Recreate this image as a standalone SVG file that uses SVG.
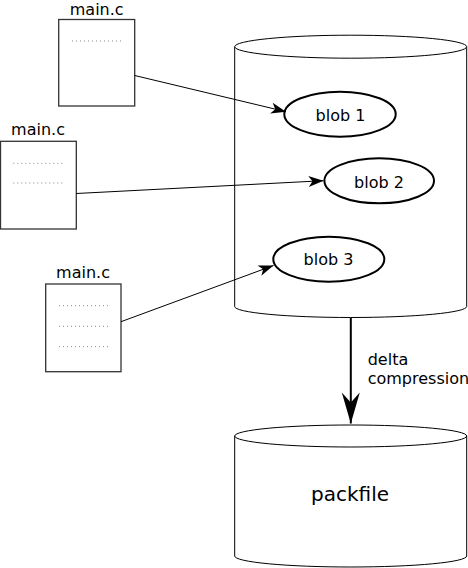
<svg xmlns="http://www.w3.org/2000/svg" width="468" height="568" viewBox="0 0 468 568">
<style>
text{font-family:"DejaVu Sans","Liberation Sans",sans-serif;fill:#000}
.lbl{font-size:16px}
.mid{text-anchor:middle}
.file{fill:#fff;stroke:#333;stroke-width:1.3}
.dots{stroke:#888;stroke-width:1;stroke-dasharray:1 3}
.blob{fill:#fff;stroke:#000;stroke-width:2}
.cyl{fill:#fff;stroke:#000;stroke-width:1}
.conn{stroke:#000;stroke-width:1;fill:none}
</style>
<defs>
<marker id="ah" markerUnits="userSpaceOnUse" markerWidth="20" markerHeight="14" refX="16" refY="6" orient="auto" viewBox="0 0 20 14">
<path d="M16,6 L1,0.5 L5,6 L1,11.5 Z" fill="#000"/>
</marker>
<marker id="big" markerUnits="userSpaceOnUse" markerWidth="34" markerHeight="22" refX="32" refY="10" orient="auto" viewBox="0 0 34 22">
<path d="M32,10 L1,1 L11,10 L1,19 Z" fill="#000"/>
</marker>
</defs>
<g id="store">
<path class="cyl" d="M234.7,46.7 V306.5 A116,11 0 0 0 466.7,306.5 V46.7"/>
<ellipse class="cyl" cx="350.7" cy="46.7" rx="116" ry="11.5"/>
</g>
<g id="packfile">
<path class="cyl" d="M234.7,436 V556 A116,11 0 0 0 466.7,556 V436"/>
<ellipse class="cyl" cx="350.7" cy="436" rx="116" ry="11"/>
<text class="mid" x="350" y="500.7" style="font-size:20px">packfile</text>
</g>
<g id="file1">
<text class="lbl mid" x="96.7" y="14.5">main.c</text>
<rect class="file" x="58.7" y="19.5" width="76" height="86.5"/>
<line class="dots" x1="72" y1="41" x2="122" y2="41"/>
</g>
<g id="file2">
<text class="lbl mid" x="38" y="135">main.c</text>
<rect class="file" x="0.5" y="141.3" width="75.8" height="87.7"/>
<line class="dots" x1="13.3" y1="163.3" x2="63.3" y2="163.3"/>
<line class="dots" x1="13.3" y1="183" x2="63.3" y2="183"/>
</g>
<g id="file3">
<text class="lbl mid" x="83" y="277.7">main.c</text>
<rect class="file" x="45.7" y="284" width="75.3" height="87.7"/>
<line class="dots" x1="59" y1="305.7" x2="109" y2="305.7"/>
<line class="dots" x1="59" y1="326.3" x2="109" y2="326.3"/>
<line class="dots" x1="59" y1="346.7" x2="109" y2="346.7"/>
</g>
<g id="blob1">
<ellipse class="blob" cx="340" cy="114.2" rx="55.7" ry="22.5"/>
<text class="lbl mid" x="340.5" y="120.5">blob 1</text>
</g>
<g id="blob2">
<ellipse class="blob" cx="379.2" cy="180.8" rx="54.8" ry="22.5"/>
<text class="lbl mid" x="379" y="187.5">blob 2</text>
</g>
<g id="blob3">
<ellipse class="blob" cx="328.8" cy="259.2" rx="55.5" ry="22.5"/>
<text class="lbl mid" x="328.5" y="265">blob 3</text>
</g>
<g id="connectors">
<line class="conn" x1="134.7" y1="75.5" x2="286" y2="111.7" marker-end="url(#ah)"/>
<line class="conn" x1="76.3" y1="193.5" x2="323.5" y2="180.7" marker-end="url(#ah)"/>
<line class="conn" x1="121" y1="321.7" x2="273.5" y2="265.5" marker-end="url(#ah)"/>
<line class="conn" x1="350.8" y1="318" x2="350.8" y2="423.5" style="stroke-width:2" marker-end="url(#big)"/>
<text class="lbl" x="367.7" y="365">delta</text>
<text class="lbl" x="367.7" y="384">compression</text>
</g>
</svg>
